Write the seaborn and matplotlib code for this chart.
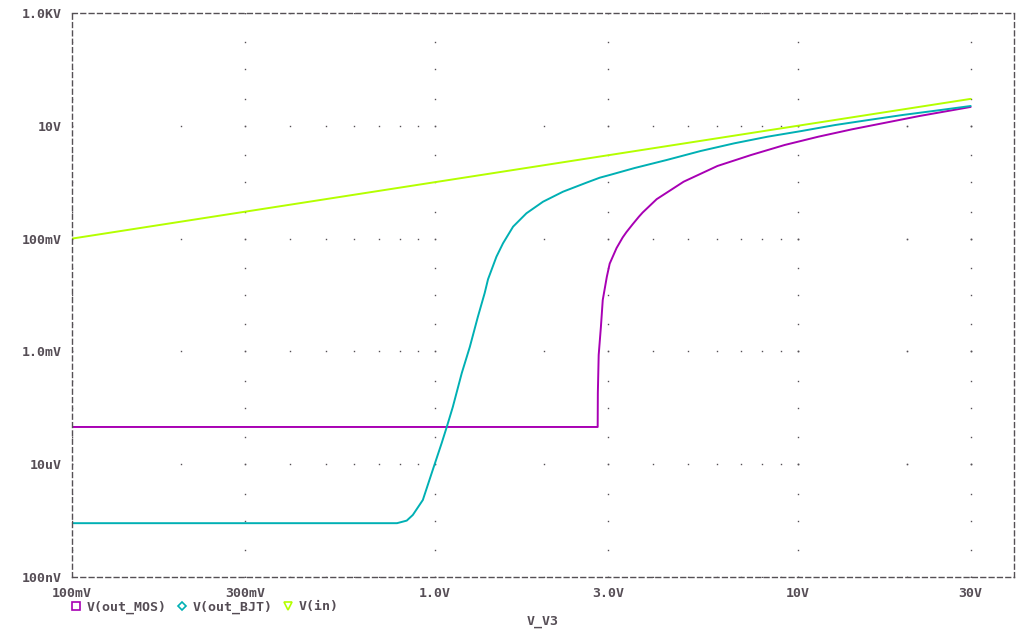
import numpy as np
import pandas as pd
import matplotlib
matplotlib.use("Agg")
import matplotlib.pyplot as plt
from matplotlib.lines import Line2D
import seaborn as sns

# sweep values (V_V3) and traces
vin_x = [0.1, 0.3, 1.0, 3.0, 10.0, 30.0]
vin_y = [0.1, 0.3, 1.0, 3.0, 10.0, 30.0]

bjt_x = [0.1, 0.787, 0.837, 0.870, 0.927, 0.987, 1.045, 1.079, 1.121, 1.187,
         1.249, 1.314, 1.373, 1.402, 1.479, 1.542, 1.644, 1.789, 1.988, 2.257,
         2.617, 2.849, 3.035, 3.55, 4.356, 5.405, 6.694, 8.266, 10.26, 12.70,
         15.69, 19.47, 24.11, 30.0]
bjt_y = [9.0e-7, 9.0e-7, 1.0e-6, 1.26e-6, 2.32e-6, 7.89e-6, 2.38e-5, 4.57e-5,
         1.03e-4, 4.14e-4, 1.20e-3, 4.07e-3, 1.09e-2, 1.90e-2, 4.78e-2, 8.26e-2,
         0.163, 0.281, 0.451, 0.679, 0.980, 1.202, 1.342, 1.78, 2.475, 3.574,
         4.894, 6.41, 8.087, 10.33, 12.67, 15.54, 18.6, 22.44]

mos_x = [0.1, 2.812, 2.815, 2.83, 2.87, 2.904, 2.98, 3.035, 3.17, 3.296,
         3.374, 3.512, 3.654, 3.741, 4.089, 4.853, 6.012, 7.445, 9.21, 11.41,
         14.13, 17.48, 21.68, 26.82, 30.0]
mos_y = [4.57e-5, 4.57e-5, 1.83e-4, 8.64e-4, 2.71e-3, 8.15e-3, 2.1e-2, 3.6e-2,
         6.8e-2, 0.105, 0.13, 0.18, 0.245, 0.29, 0.50, 1.021, 1.938, 3.036,
         4.566, 6.41, 8.667, 11.35, 14.92, 19.0, 21.6]

x_ticks = [0.1, 0.3, 1.0, 3.0, 10.0, 30.0]
x_labels = ["100mV", "300mV", "1.0V", "3.0V", "10V", "30V"]
y_ticks = [1e-7, 1e-5, 1e-3, 0.1, 10.0, 1000.0]
y_labels = ["100nV", "10uV", "1.0mV", "100mV", "10V", "1.0KV"]

traces = ["V(out_MOS)", "V(out_BJT)", "V(in)"]
colors = {"V(out_MOS)": "#a800b4", "V(out_BJT)": "#00b0b4", "V(in)": "#b4ff00"}
markers = {"V(out_MOS)": "s", "V(out_BJT)": "D", "V(in)": "v"}

df = pd.concat([
    pd.DataFrame({"V_V3": mos_x, "V": mos_y, "trace": "V(out_MOS)"}),
    pd.DataFrame({"V_V3": bjt_x, "V": bjt_y, "trace": "V(out_BJT)"}),
    pd.DataFrame({"V_V3": vin_x, "V": vin_y, "trace": "V(in)"}),
], ignore_index=True)

sns.set_style("white")
plt.rcParams["font.family"] = ["DejaVu Sans Mono"]
txt = "#554d55"
frame = "#555055"

fig = plt.figure(figsize=(10.2, 6.31), dpi=100)
ax = fig.add_axes([72 / 1020, 1 - 577 / 631, (1014 - 72) / 1020, (577 - 13) / 631])

ax.set_xscale("log")
ax.set_yscale("log")
ax.set_xlim(0.1, 39.5)
ax.set_ylim(1e-7, 1e3)

# PSpice style dotted grid
xminor = [m * 10.0 ** k for k in range(-1, 2) for m in range(1, 10)] + [10.0 * m for m in range(1, 4)]
ydots = [m * 10.0 ** k for k in range(-7, 3) for m in (1, 3)] + [1000.0]
for xv in x_ticks:
    ax.plot([xv] * len(ydots), ydots, ls="none", marker="s", ms=1.0, color=frame, mew=0)
for yv in y_ticks:
    ax.plot(xminor, [yv] * len(xminor), ls="none", marker="s", ms=1.0, color=frame, mew=0)

sns.lineplot(data=df, x="V_V3", y="V", hue="trace", palette=colors,
             sort=False, estimator=None, lw=1.4, ax=ax, legend=False)

ax.set_xticks(x_ticks)
ax.set_xticklabels(x_labels)
ax.set_yticks(y_ticks)
ax.set_yticklabels(y_labels)
ax.minorticks_off()
ax.tick_params(axis="both", direction="out", length=3.5, width=0.8, color=frame,
               labelcolor=txt, labelsize=9.5, pad=4)
for lab in ax.get_xticklabels() + ax.get_yticklabels():
    lab.set_fontweight("bold")

for sp in ax.spines.values():
    sp.set_visible(True)
    sp.set_color(frame)
    sp.set_linewidth(1.0)
    sp.set_linestyle((0, (3.5, 2.5)))

ax.set_xlabel("")
ax.set_ylabel("")
fig.text(543 / 1020, 1 - 622 / 631, "V_V3", color=txt, fontsize=9.5, fontweight="bold",
         ha="center", va="center")

handles = [Line2D([], [], ls="none", marker=markers[t], mfc="none", mec=colors[t],
                  ms=6 if t != "V(out_BJT)" else 4.5, mew=1.2) for t in traces]
leg = fig.legend(handles, traces, loc="center left", bbox_to_anchor=(71 / 1020, 1 - 607 / 631),
                 ncol=3, frameon=False, handlelength=0.8, handletextpad=0.4,
                 columnspacing=0.75, borderpad=0, borderaxespad=0,
                 prop={"family": "DejaVu Sans Mono", "size": 9.5, "weight": "bold"})
for t in leg.get_texts():
    t.set_color(txt)

fig.savefig("out.png", dpi=100)
